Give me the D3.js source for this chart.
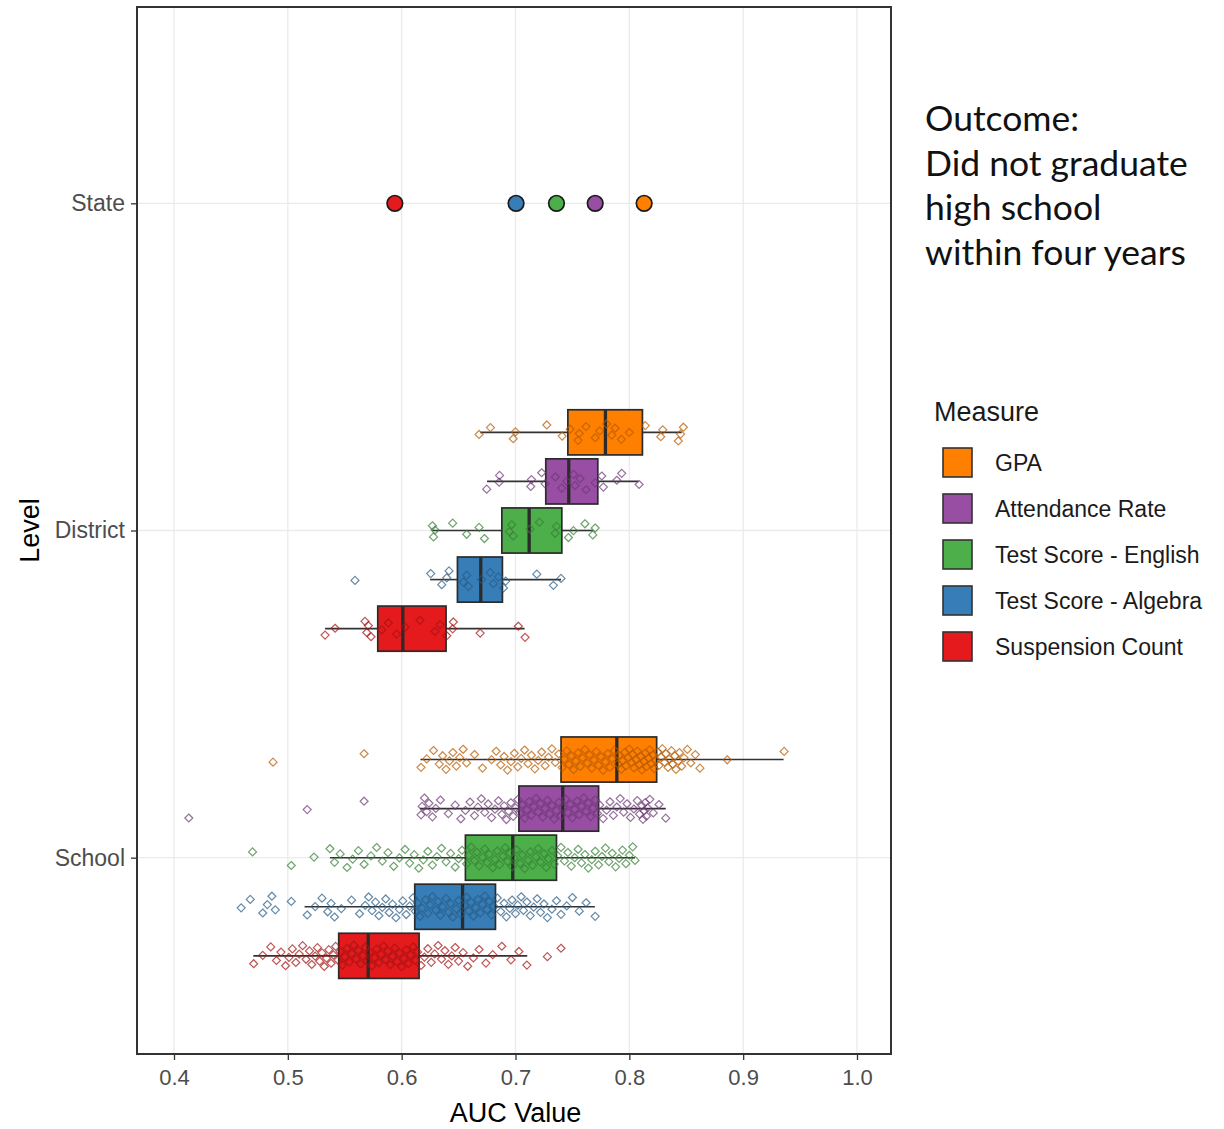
<!DOCTYPE html>
<html>
<head>
<meta charset="utf-8">
<script src="https://cdn.jsdelivr.net/npm/d3@7"></script>
<style>
  html, body { margin: 0; padding: 0; background: #ffffff; }
  svg { display: block; }
</style>
</head>
<body>
<svg id="chart" width="1224" height="1129"></svg>
<script>
// ---- Data -------------------------------------------------------------
const levels = ["State", "District", "School"];
const measures = ["GPA", "Attendance Rate", "Test Score - English", "Test Score - Algebra", "Suspension Count"];
const measureColors = ["#FF7F00", "#984EA3", "#4DAF4A", "#377EB8", "#E41A1C"];
const xTicks = [0.4, 0.5, 0.6, 0.7, 0.8, 0.9, 1.0];

// State-level AUC (one value per measure)
const stateAUC = [0.813, 0.770, 0.736, 0.7005, 0.594];

// Box summaries: [whisker low, Q1, median, Q3, whisker high]
const districtBoxes = [
  [0.669, 0.746, 0.779, 0.8115, 0.846],
  [0.675, 0.7266, 0.7468, 0.7723, 0.808],
  [0.627, 0.688, 0.712, 0.7407, 0.768],
  [0.625, 0.649, 0.6695, 0.6885, 0.740],
  [0.5327, 0.579, 0.601, 0.639, 0.708]
];
const schoolBoxes = [
  [0.6165, 0.740, 0.789, 0.824, 0.9355],
  [0.616, 0.703, 0.7415, 0.773, 0.832],
  [0.537, 0.656, 0.6976, 0.736, 0.805],
  [0.5147, 0.6115, 0.6535, 0.6824, 0.7697],
  [0.4697, 0.5447, 0.5706, 0.6153, 0.7103]
];

// Individual district AUC values
const districtGPA = [0.668, 0.678, 0.698, 0.700, 0.7275, 0.741, 0.748, 0.755, 0.756, 0.762, 0.770, 0.774, 0.780, 0.7846, 0.7875, 0.793, 0.800, 0.814, 0.8276, 0.8294, 0.843, 0.845, 0.8475];
const districtAttendance = [0.6747, 0.6856, 0.686, 0.7134, 0.714, 0.723, 0.726, 0.735, 0.7406, 0.745, 0.751, 0.7523, 0.7567, 0.762, 0.770, 0.7758, 0.7772, 0.789, 0.7933, 0.8086];
const districtEnglish = [0.627, 0.628, 0.6293, 0.6448, 0.6571, 0.668, 0.6727, 0.6946, 0.6967, 0.698, 0.7128, 0.721, 0.7348, 0.736, 0.7465, 0.7509, 0.761, 0.7679, 0.770];
const districtAlgebra = [0.559, 0.6255, 0.6352, 0.6396, 0.6416, 0.6542, 0.6572, 0.6586, 0.6703, 0.6777, 0.6806, 0.685, 0.6894, 0.6914, 0.7187, 0.7333, 0.740];
const districtSuspension = [0.5327, 0.5415, 0.5678, 0.5693, 0.5707, 0.5731, 0.5825, 0.5883, 0.5956, 0.603, 0.6161, 0.6293, 0.6337, 0.6396, 0.6448, 0.6454, 0.6689, 0.7025, 0.7084];

// Individual school AUC values
const schoolGPA = [0.487, 0.567, 0.617, 0.622, 0.628, 0.633, 0.636, 0.639, 0.642, 0.645, 0.648, 0.651, 0.654, 0.657, 0.664, 0.671, 0.679, 0.683, 0.687, 0.690, 0.693, 0.696, 0.699, 0.702, 0.705, 0.708, 0.711, 0.714, 0.717, 0.720, 0.723, 0.726, 0.729, 0.732, 0.735, 0.738,
  0.741, 0.743, 0.745, 0.747, 0.749, 0.751, 0.753, 0.755, 0.757, 0.759, 0.761, 0.763, 0.765, 0.767, 0.769, 0.771, 0.773, 0.775, 0.777, 0.779, 0.781, 0.783, 0.785, 0.787,
  0.790, 0.791, 0.793, 0.794, 0.796, 0.797, 0.799, 0.800, 0.802, 0.803, 0.804, 0.806, 0.807, 0.809, 0.810, 0.811, 0.813, 0.814, 0.815, 0.817, 0.818, 0.819, 0.821, 0.822, 0.823,
  0.825, 0.826, 0.828, 0.829, 0.831, 0.832, 0.834, 0.835, 0.837, 0.838, 0.840, 0.841, 0.843, 0.844, 0.846, 0.848, 0.851, 0.854, 0.858, 0.862, 0.886, 0.936];
const schoolAttendance = [0.413, 0.517, 0.567, 0.617, 0.618, 0.620, 0.622, 0.624, 0.627, 0.630, 0.634, 0.641, 0.647, 0.652, 0.656, 0.660, 0.664, 0.667, 0.670, 0.673, 0.676, 0.679, 0.682, 0.685, 0.688, 0.690, 0.692, 0.694, 0.696, 0.698, 0.700, 0.702,
  0.704, 0.706, 0.708, 0.710, 0.712, 0.714, 0.716, 0.718, 0.720, 0.722, 0.724, 0.726, 0.728, 0.730, 0.732, 0.734, 0.736, 0.738, 0.740,
  0.742, 0.744, 0.746, 0.748, 0.750, 0.752, 0.754, 0.756, 0.758, 0.760, 0.762, 0.764, 0.766, 0.768, 0.770, 0.772,
  0.774, 0.777, 0.780, 0.783, 0.786, 0.789, 0.792, 0.795, 0.798, 0.801, 0.804, 0.807, 0.809, 0.811, 0.812, 0.813, 0.814, 0.815, 0.816, 0.818, 0.821, 0.826, 0.832];
const schoolEnglish = [0.469, 0.503, 0.523, 0.537, 0.541, 0.546, 0.552, 0.557, 0.562, 0.567, 0.573, 0.578, 0.583, 0.588, 0.593, 0.598, 0.603, 0.607, 0.611, 0.615, 0.619, 0.623, 0.627, 0.631, 0.635, 0.639, 0.643, 0.647, 0.650, 0.653,
  0.657, 0.659, 0.661, 0.664, 0.666, 0.668, 0.671, 0.673, 0.675, 0.677, 0.680, 0.682, 0.684, 0.686, 0.689, 0.691, 0.693, 0.695, 0.697,
  0.699, 0.701, 0.704, 0.706, 0.708, 0.711, 0.713, 0.715, 0.718, 0.720, 0.722, 0.725, 0.727, 0.729, 0.732, 0.734,
  0.737, 0.740, 0.743, 0.746, 0.749, 0.752, 0.755, 0.758, 0.761, 0.764, 0.767, 0.770, 0.773, 0.776, 0.779, 0.782, 0.785, 0.788, 0.791, 0.794, 0.797, 0.800, 0.803, 0.805];
const schoolAlgebra = [0.459, 0.467, 0.478, 0.482, 0.486, 0.489, 0.503, 0.517, 0.524, 0.530, 0.535, 0.538, 0.541, 0.547, 0.556, 0.563, 0.568, 0.571, 0.574, 0.577, 0.580, 0.583, 0.586, 0.589, 0.592, 0.595, 0.598, 0.601, 0.604, 0.607, 0.610,
  0.612, 0.614, 0.616, 0.618, 0.621, 0.623, 0.625, 0.627, 0.630, 0.632, 0.634, 0.636, 0.639, 0.641, 0.643, 0.645, 0.648, 0.650, 0.652,
  0.655, 0.657, 0.659, 0.661, 0.663, 0.665, 0.667, 0.669, 0.671, 0.673, 0.675, 0.677, 0.679, 0.681,
  0.684, 0.687, 0.690, 0.692, 0.695, 0.697, 0.700, 0.702, 0.705, 0.707, 0.710, 0.713, 0.716, 0.719, 0.722, 0.725, 0.728, 0.732, 0.736, 0.740, 0.745, 0.750, 0.756, 0.762, 0.770];
const schoolSuspension = [0.470, 0.478, 0.485, 0.490, 0.494, 0.498, 0.501, 0.504, 0.507, 0.510, 0.513, 0.516, 0.519, 0.521, 0.524, 0.526, 0.528, 0.530, 0.532, 0.534, 0.536, 0.538, 0.540, 0.542, 0.544,
  0.546, 0.548, 0.550, 0.552, 0.554, 0.556, 0.558, 0.560, 0.562, 0.564, 0.566, 0.568, 0.570,
  0.572, 0.574, 0.576, 0.578, 0.580, 0.582, 0.584, 0.586, 0.588, 0.590, 0.592, 0.594, 0.596, 0.598, 0.600, 0.602, 0.604, 0.606, 0.608, 0.610, 0.612, 0.614,
  0.617, 0.620, 0.623, 0.626, 0.629, 0.632, 0.635, 0.638, 0.641, 0.644, 0.647, 0.650, 0.654, 0.658, 0.663, 0.668, 0.674, 0.680, 0.688, 0.696, 0.703, 0.710, 0.728, 0.740];

const districtPoints = [districtGPA, districtAttendance, districtEnglish, districtAlgebra, districtSuspension];
const schoolPoints = [schoolGPA, schoolAttendance, schoolEnglish, schoolAlgebra, schoolSuspension];

const outcomeLines = ["Outcome:", "Did not graduate", "high school", "within four years"];

// ---- Layout -----------------------------------------------------------
const svg = d3.select("#chart");
const panel = { left: 137, right: 891, top: 7, bottom: 1054 };
const axisFont = "'Liberation Sans', Arial, sans-serif";

const x = d3.scaleLinear().domain([0.4, 1.0]).range([174, 857]);
const y = d3.scalePoint().domain(levels).range([panel.top, panel.bottom]).padding(0.6);
const step = y.step();
const dodge = d3.scaleBand().domain(measures).range([-0.375 * step, 0.375 * step]);
const boxH = dodge.bandwidth() * 0.92;
const color = d3.scaleOrdinal().domain(measures).range(measureColors);

// Grid lines
const grid = svg.append("g");
grid.selectAll("line.vx").data(xTicks).join("line")
  .attr("x1", d => x(d)).attr("x2", d => x(d))
  .attr("y1", panel.top).attr("y2", panel.bottom)
  .attr("stroke", "#ebebeb").attr("stroke-width", 1.3);
grid.selectAll("line.hy").data(levels).join("line")
  .attr("x1", panel.left).attr("x2", panel.right)
  .attr("y1", d => y(d)).attr("y2", d => y(d))
  .attr("stroke", "#ebebeb").attr("stroke-width", 1.3);

// Box plots (District and School)
const boxSets = [
  { level: "District", boxes: districtBoxes, points: districtPoints, jitter: 9 },
  { level: "School", boxes: schoolBoxes, points: schoolPoints, jitter: 11 }
];

const marks = svg.append("g");
boxSets.forEach(set => {
  set.boxes.forEach((b, i) => {
    const m = measures[i];
    const cy = y(set.level) + dodge(m) + dodge.bandwidth() / 2;
    const g = marks.append("g");
    // whiskers
    g.append("line").attr("x1", x(b[0])).attr("x2", x(b[1]))
      .attr("y1", cy).attr("y2", cy).attr("stroke", "#333").attr("stroke-width", 1.6);
    g.append("line").attr("x1", x(b[3])).attr("x2", x(b[4]))
      .attr("y1", cy).attr("y2", cy).attr("stroke", "#333").attr("stroke-width", 1.6);
    // box
    g.append("rect").attr("x", x(b[1])).attr("width", x(b[3]) - x(b[1]))
      .attr("y", cy - boxH / 2).attr("height", boxH)
      .attr("fill", color(m)).attr("stroke", "#2b2b2b").attr("stroke-width", 1.7);
    // median
    g.append("line").attr("x1", x(b[2])).attr("x2", x(b[2]))
      .attr("y1", cy - boxH / 2).attr("y2", cy + boxH / 2)
      .attr("stroke", "#2b2b2b").attr("stroke-width", 3.3);
  });
});

// Jittered individual values (open diamonds)
const diamond = r => `M0,${-r}L${r},0L0,${r}L${-r},0Z`;
boxSets.forEach(set => {
  set.points.forEach((vals, i) => {
    const m = measures[i];
    const cy = y(set.level) + dodge(m) + dodge.bandwidth() / 2;
    const stroke = d3.color(color(m)).darker(0.9).formatHex();
    marks.append("g").selectAll("path").data(vals).join("path")
      .attr("d", diamond(4))
      .attr("transform", (d, k) => {
        const frac = ((k + 1) * 0.6180339887 + i * 0.31) % 1;
        return `translate(${x(d)},${cy + (frac - 0.5) * 2 * set.jitter})`;
      })
      .attr("fill", "none").attr("stroke", stroke)
      .attr("stroke-width", 1.2).attr("stroke-opacity", 0.72);
  });
});

// State-level points
marks.append("g").selectAll("circle").data(stateAUC).join("circle")
  .attr("cx", d => x(d)).attr("cy", y("State")).attr("r", 7.8)
  .attr("fill", (d, i) => measureColors[i])
  .attr("stroke", "#1a1a1a").attr("stroke-width", 1.7);

// Panel border
svg.append("rect").attr("x", panel.left).attr("y", panel.top)
  .attr("width", panel.right - panel.left).attr("height", panel.bottom - panel.top)
  .attr("fill", "none").attr("stroke", "#333").attr("stroke-width", 2);

// Axes
const xAxis = svg.append("g").attr("transform", `translate(0,${panel.bottom})`)
  .call(d3.axisBottom(x).tickValues(xTicks).tickFormat(d3.format(".1f")).tickSize(6).tickPadding(9));
const yAxis = svg.append("g").attr("transform", `translate(${panel.left},0)`)
  .call(d3.axisLeft(y).tickSize(6).tickPadding(6));
[xAxis, yAxis].forEach(a => {
  a.select(".domain").remove();
  a.selectAll(".tick line").attr("stroke", "#333").attr("stroke-width", 1.3);
  a.selectAll(".tick text").attr("fill", "#4d4d4d").style("font-family", axisFont);
});
xAxis.selectAll(".tick text").style("font-size", "22px");
yAxis.selectAll(".tick text").style("font-size", "23px");

svg.append("text").attr("x", x(0.7)).attr("y", 1122)
  .attr("text-anchor", "middle").style("font-family", axisFont).style("font-size", "27px")
  .attr("fill", "#000").text("AUC Value");
svg.append("text").attr("transform", `translate(39,${y("District")}) rotate(-90)`)
  .attr("text-anchor", "middle").style("font-family", axisFont).style("font-size", "27px")
  .attr("fill", "#000").text("Level");

// Legend
const legend = svg.append("g");
legend.append("text").attr("x", 934).attr("y", 421)
  .style("font-family", axisFont).style("font-size", "27px").attr("fill", "#1a1a1a").text("Measure");
const items = legend.selectAll("g.item").data(measures).join("g")
  .attr("transform", (d, i) => `translate(943,${448 + i * 46})`);
items.append("rect").attr("width", 29).attr("height", 29)
  .attr("fill", d => color(d)).attr("stroke", "#333").attr("stroke-width", 1.6);
items.append("text").attr("x", 52).attr("y", 23)
  .style("font-family", axisFont).style("font-size", "23px").attr("fill", "#1a1a1a")
  .text(d => d);

// Outcome note
svg.append("g").selectAll("text").data(outcomeLines).join("text")
  .attr("x", 925).attr("y", (d, i) => 131 + i * 44.5)
  .style("font-family", "Lato, 'Open Sans', sans-serif").style("font-size", "35.5px")
  .attr("fill", "#111").text(d => d);
</script>
</body>
</html>
